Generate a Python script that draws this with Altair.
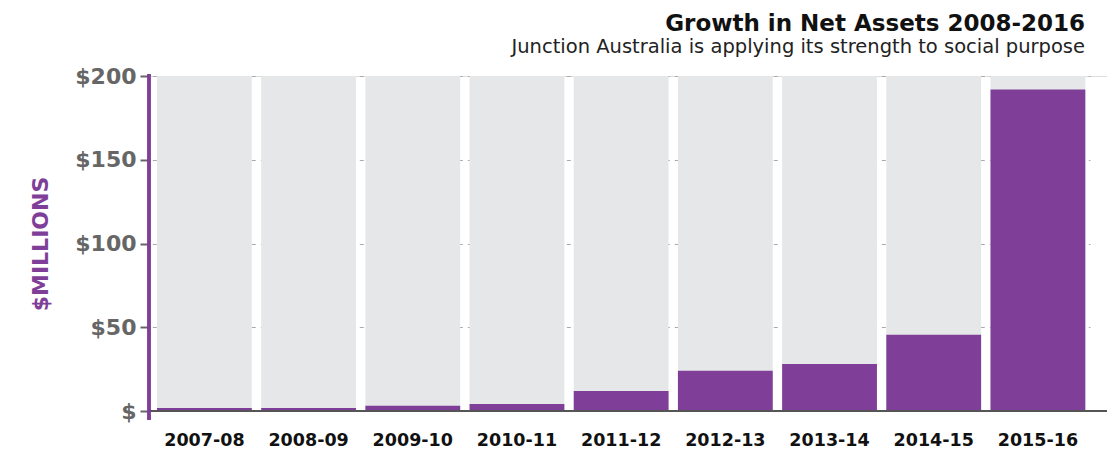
import altair as alt
import pandas as pd

periods = ["2007-08", "2008-09", "2009-10", "2010-11", "2011-12",
           "2012-13", "2013-14", "2014-15", "2015-16"]
net_assets = [1.8, 1.8, 3.2, 4.2, 12, 24, 28, 45.5, 192]
y_max = 200
y_ticks = [0, 50, 100, 150, 200]

W, H = 958, 335
PURPLE = "#7f3f98"
FONT = "DejaVu Sans"

df = pd.DataFrame({"period": periods, "value": net_assets, "full": [y_max] * len(periods)})

xscale = alt.Scale(domain=periods, range=[3.3, 941], paddingInner=0.09, paddingOuter=0.045)
yscale = alt.Scale(domain=[0, y_max], nice=False)

xenc = alt.X("period:N", scale=xscale, sort=periods, title=None,
             axis=alt.Axis(labelAngle=0, domain=False, ticks=False, labelFont=FONT,
                           labelFontWeight="bold", labelFontSize=17.5, labelColor="#111",
                           labelPadding=20))

bg = alt.Chart(df).mark_bar(color="#e6e7e9").encode(
    x=xenc,
    y=alt.Y("full:Q", scale=yscale, title="$MILLIONS",
            axis=alt.Axis(values=y_ticks, labelExpr="'$' + (datum.value == 0 ? '' : datum.value)",
                          domain=False, tickColor="#666", tickWidth=2, tickSize=9,
                          labelFont=FONT, labelFontWeight="bold", labelFontSize=22,
                          labelColor="#666", labelPadding=4,
                          grid=True, gridDash=[4, 5], gridColor="#aaaaaa", gridWidth=1,
                          titleFont=FONT, titleFontWeight="bold", titleFontSize=22,
                          titleColor=PURPLE, titleX=-109, titleY=H / 2, titleAngle=-90,
                          titleAlign="center", titleBaseline="middle")),
)

fg = alt.Chart(df).mark_bar(color=PURPLE).encode(
    x=alt.X("period:N", scale=xscale, sort=periods),
    y=alt.Y("value:Q", scale=yscale),
)

base_rule = alt.Chart(df).mark_rule(color="#555555", strokeWidth=2).encode(
    x=alt.value(0), x2=alt.value(W), y=alt.Y(datum=0, scale=yscale)
)
y_line = alt.Chart(df).mark_rule(color=PURPLE, strokeWidth=2.5).encode(
    x=alt.value(0), y=alt.value(-2), y2=alt.value(H + 9)
)

chart = alt.layer(bg, fg, base_rule, y_line).properties(
    width=W, height=H,
    autosize="none",
    padding={"left": 141, "top": 68, "right": 0, "bottom": 39},
    title=alt.TitleParams(
        "Growth in Net Assets 2008-2016",
        subtitle="Junction Australia is applying its strength to social purpose",
        anchor="end", frame="group", dx=-22, offset=9,
        font=FONT, fontSize=23, fontWeight="bold", color="#111",
        subtitleFont=FONT, subtitleFontSize=19.5, subtitleColor="#222", subtitlePadding=2,
    ),
).configure_view(stroke=None).configure(background="white")

chart.save("out.html", embed_options={"renderer": "svg", "actions": False})
